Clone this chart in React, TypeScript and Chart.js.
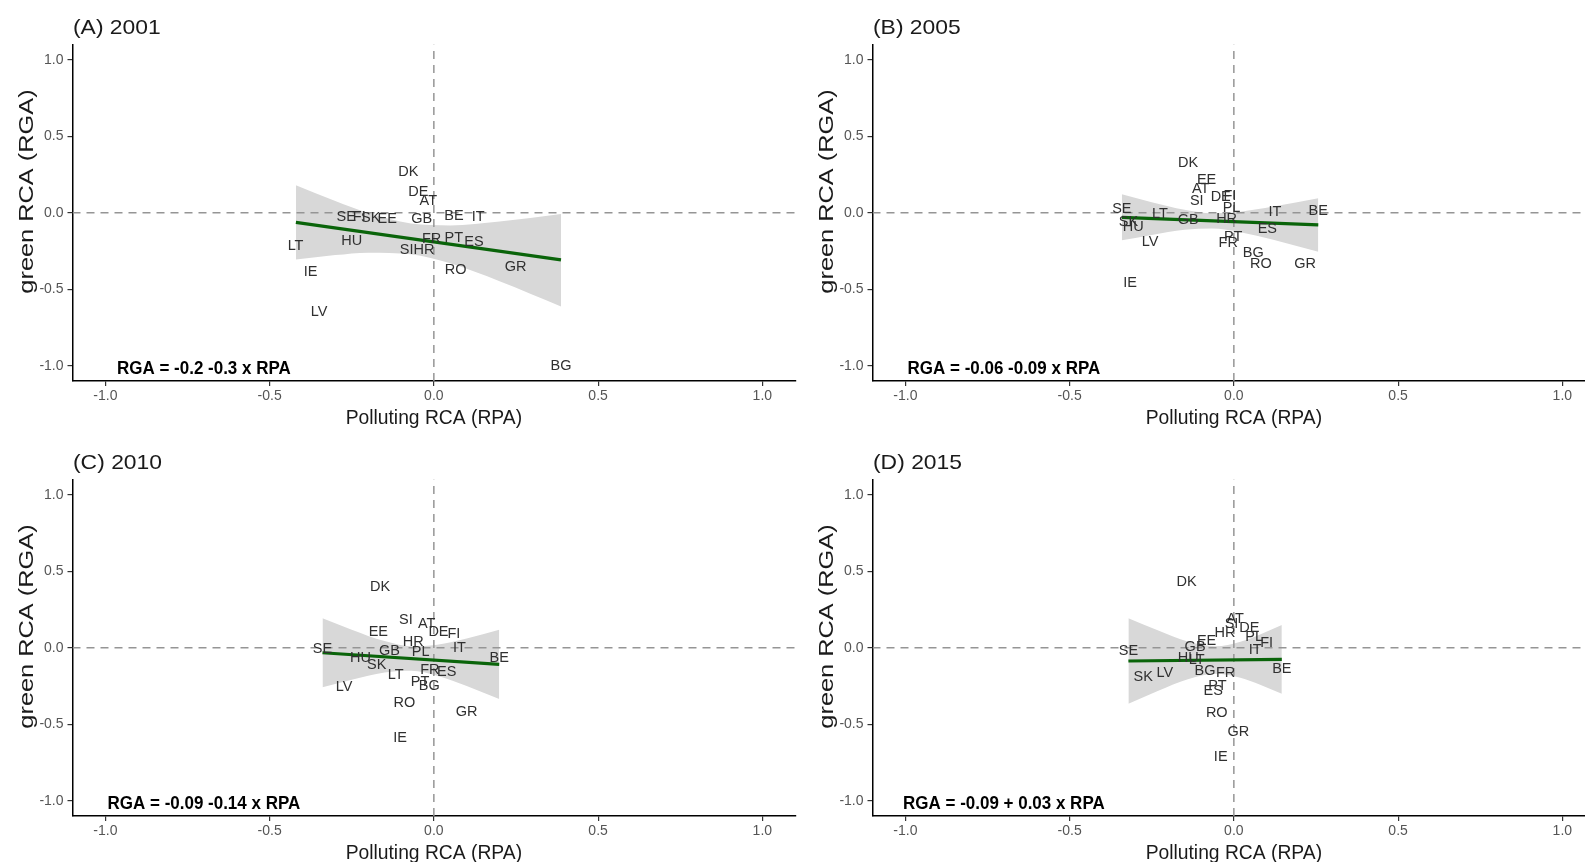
import React, { useEffect, useRef } from 'react';
import { Chart, registerables } from 'chart.js';
Chart.register(...registerables);

const FONT = "'Liberation Sans', Arial, Helvetica, sans-serif";

// ---------- axis ticks ----------
const xTickValues = [-1, -0.5, 0, 0.5, 1];
const xTickLabels = ['-1.0', '-0.5', '0.0', '0.5', '1.0'];
const yTickValues = [-1, -0.5, 0, 0.5, 1];
const yTickLabels = ['-1.0', '-0.5', '0.0', '0.5', '1.0'];
const xTitle = 'Polluting RCA (RPA)';
const yTitle = 'green RCA (RGA)';

// ---------- (A) 2001 ----------
const codes2001 = ['DK', 'DE', 'AT', 'SE', 'FI', 'SK', 'EE', 'GB', 'BE', 'IT', 'LT', 'HU', 'FR', 'PT', 'ES', 'SI', 'HR', 'IE', 'RO', 'GR', 'LV', 'BG'];
const rpa2001 = [-0.078, -0.047, -0.017, -0.267, -0.227, -0.192, -0.142, -0.037, 0.061, 0.135, -0.421, -0.25, -0.007, 0.061, 0.122, -0.083, -0.03, -0.375, 0.066, 0.249, -0.349, 0.387];
const rga2001 = [0.268, 0.137, 0.076, -0.03, -0.026, -0.037, -0.043, -0.043, -0.022, -0.03, -0.218, -0.183, -0.174, -0.167, -0.19, -0.244, -0.244, -0.386, -0.375, -0.357, -0.651, -1.0];
const fitX2001 = [-0.42, 0.387];
const fitY2001 = [-0.063, -0.308];
const bandX2001 = [-0.42, -0.3, -0.2, -0.07, 0.05, 0.2, 0.387];
const bandHi2001 = [0.18, 0.077, -0.001, -0.071, -0.083, -0.058, -0.009];
const bandLo2001 = [-0.306, -0.277, -0.261, -0.271, -0.331, -0.448, -0.613];

// ---------- (B) 2005 ----------
const codes2005 = ['DK', 'EE', 'AT', 'SI', 'DE', 'FI', 'PL', 'SE', 'SK', 'HU', 'LT', 'GB', 'HR', 'IT', 'BE', 'ES', 'LV', 'PT', 'FR', 'BG', 'RO', 'GR', 'IE'];
const rpa2005 = [-0.139, -0.083, -0.101, -0.113, -0.04, -0.012, -0.007, -0.341, -0.321, -0.306, -0.225, -0.139, -0.022, 0.125, 0.257, 0.102, -0.255, -0.002, -0.017, 0.059, 0.082, 0.217, -0.316];
const rga2005 = [0.323, 0.214, 0.153, 0.078, 0.1, 0.109, 0.029, 0.026, -0.059, -0.096, -0.008, -0.048, -0.043, 0.007, 0.011, -0.109, -0.19, -0.157, -0.2, -0.265, -0.335, -0.335, -0.46];
const fitX2005 = [-0.341, 0.257];
const fitY2005 = [-0.03, -0.08];
const bandX2005 = [-0.341, -0.25, -0.15, -0.067, 0.02, 0.12, 0.257];
const bandHi2005 = [0.12, 0.069, 0.02, -0.003, 0.007, 0.04, 0.095];
const bandLo2005 = [-0.18, -0.145, -0.112, -0.103, -0.127, -0.177, -0.255];

// ---------- (C) 2010 ----------
const codes2010 = ['DK', 'SI', 'AT', 'DE', 'FI', 'EE', 'HR', 'IT', 'SE', 'GB', 'PL', 'BE', 'HU', 'SK', 'LT', 'FR', 'ES', 'PT', 'BG', 'LV', 'RO', 'GR', 'IE'];
const rpa2010 = [-0.164, -0.085, -0.022, 0.014, 0.061, -0.169, -0.063, 0.078, -0.339, -0.135, -0.04, 0.199, -0.223, -0.174, -0.116, -0.012, 0.039, -0.042, -0.014, -0.273, -0.09, 0.1, -0.103];
const rga2010 = [0.395, 0.181, 0.155, 0.105, 0.09, 0.105, 0.039, -0.004, -0.011, -0.02, -0.03, -0.065, -0.069, -0.113, -0.178, -0.146, -0.161, -0.226, -0.25, -0.255, -0.359, -0.422, -0.588];
const fitX2010 = [-0.339, 0.199];
const fitY2010 = [-0.033, -0.109];
const bandX2010 = [-0.339, -0.25, -0.15, -0.069, 0.01, 0.1, 0.199];
const bandHi2010 = [0.193, 0.118, 0.043, 0.009, 0.019, 0.06, 0.117];
const bandLo2010 = [-0.259, -0.209, -0.162, -0.151, -0.183, -0.25, -0.335];

// ---------- (D) 2015 ----------
const codes2015 = ['DK', 'AT', 'SI', 'DE', 'HR', 'EE', 'GB', 'PL', 'FI', 'IT', 'SE', 'HU', 'LT', 'BE', 'BG', 'FR', 'SK', 'LV', 'PT', 'ES', 'RO', 'GR', 'IE'];
const rpa2015 = [-0.144, 0.004, -0.007, 0.047, -0.027, -0.083, -0.118, 0.062, 0.1, 0.065, -0.321, -0.139, -0.113, 0.146, -0.088, -0.025, -0.276, -0.21, -0.05, -0.063, -0.052, 0.014, -0.04];
const rga2015 = [0.427, 0.188, 0.155, 0.127, 0.094, 0.046, 0.007, 0.068, 0.033, -0.015, -0.02, -0.069, -0.08, -0.141, -0.15, -0.167, -0.193, -0.167, -0.25, -0.281, -0.425, -0.549, -0.712];
const fitX2015 = [-0.321, 0.146];
const fitY2015 = [-0.087, -0.076];
const bandX2015 = [-0.321, -0.23, -0.14, -0.056, 0.02, 0.08, 0.146];
const bandHi2015 = [0.193, 0.112, 0.04, 0.009, 0.039, 0.087, 0.149];
const bandLo2015 = [-0.367, -0.282, -0.206, -0.171, -0.197, -0.242, -0.301];

const titles = ['(A) 2001', '(B) 2005', '(C) 2010', '(D) 2015'];
const equations = ['RGA = -0.2 -0.3 x RPA', 'RGA = -0.06 -0.09 x RPA', 'RGA = -0.09 -0.14 x RPA', 'RGA = -0.09 + 0.03 x RPA'];
const eqX = -0.7;
const eqY = -1.0;

type PanelData = {
  title: string; eq: string; codes: string[]; rpa: number[]; rga: number[];
  fitX: number[]; fitY: number[]; bandX: number[]; bandHi: number[]; bandLo: number[];
};

const panels: PanelData[] = [
  { title: titles[0], eq: equations[0], codes: codes2001, rpa: rpa2001, rga: rga2001, fitX: fitX2001, fitY: fitY2001, bandX: bandX2001, bandHi: bandHi2001, bandLo: bandLo2001 },
  { title: titles[1], eq: equations[1], codes: codes2005, rpa: rpa2005, rga: rga2005, fitX: fitX2005, fitY: fitY2005, bandX: bandX2005, bandHi: bandHi2005, bandLo: bandLo2005 },
  { title: titles[2], eq: equations[2], codes: codes2010, rpa: rpa2010, rga: rga2010, fitX: fitX2010, fitY: fitY2010, bandX: bandX2010, bandHi: bandHi2010, bandLo: bandLo2010 },
  { title: titles[3], eq: equations[3], codes: codes2015, rpa: rpa2015, rga: rga2015, fitX: fitX2015, fitY: fitY2015, bandX: bandX2015, bandHi: bandHi2015, bandLo: bandLo2015 },
];

const PW = 800;
const PH = 435;
const positions = [[0, 0], [800, 0], [0, 435], [800, 435]];

function textPlugin(p: PanelData) {
  return {
    id: 'panelText',
    afterDatasetsDraw(chart: any) {
      const ctx = chart.ctx as CanvasRenderingContext2D;
      const meta = chart.getDatasetMeta(5);
      ctx.save();
      ctx.fillStyle = '#303030';
      ctx.font = `14.5px ${FONT}`;
      ctx.textAlign = 'center';
      ctx.textBaseline = 'middle';
      p.codes.forEach((c, i) => {
        const el = meta.data[i];
        ctx.fillText(c, el.x, el.y);
      });
      const xs = chart.scales.x;
      const ys = chart.scales.y;
      ctx.fillStyle = '#000';
      ctx.font = `bold 17.5px ${FONT}`;
      ctx.textBaseline = 'alphabetic';
      ctx.translate(xs.getPixelForValue(eqX), ys.getPixelForValue(eqY) + 8.5);
      ctx.scale(0.97, 1);
      ctx.fillText(p.eq, 0, 0);
      ctx.restore();
    },
    afterDraw(chart: any) {
      const ctx = chart.ctx as CanvasRenderingContext2D;
      const area = chart.chartArea;
      // panel title
      ctx.save();
      ctx.fillStyle = '#1a1a1a';
      ctx.font = `21px ${FONT}`;
      ctx.textAlign = 'left';
      ctx.textBaseline = 'alphabetic';
      ctx.translate(73, 34.3);
      ctx.scale(1.09, 1);
      ctx.fillText(p.title, 0, 0);
      ctx.restore();
      // x title
      ctx.save();
      ctx.fillStyle = '#1a1a1a';
      ctx.font = `19.3px ${FONT}`;
      ctx.textAlign = 'center';
      ctx.textBaseline = 'alphabetic';
      ctx.fillText(xTitle, (area.left + area.right) / 2, area.bottom + 42.6);
      ctx.restore();
      // y title
      ctx.save();
      ctx.fillStyle = '#1a1a1a';
      ctx.translate(33.3, 191.5);
      ctx.rotate(-Math.PI / 2);
      ctx.scale(1.3, 1);
      ctx.font = `19.5px ${FONT}`;
      ctx.textAlign = 'center';
      ctx.textBaseline = 'alphabetic';
      ctx.fillText(yTitle, 0, 0);
      ctx.restore();
    },
  };
}

function makeConfig(p: PanelData): any {
  const pts = (xs: number[], ys: number[]) => xs.map((x, i) => ({ x, y: ys[i] }));
  return {
    type: 'line',
    data: {
      datasets: [
        { data: pts(p.bandX, p.bandLo), borderColor: 'rgba(0,0,0,0)', borderWidth: 0, pointRadius: 0, cubicInterpolationMode: 'monotone', fill: false, order: 10 },
        { data: pts(p.bandX, p.bandHi), borderColor: 'rgba(0,0,0,0)', borderWidth: 0, pointRadius: 0, cubicInterpolationMode: 'monotone', fill: '-1', backgroundColor: '#d8d8d8', order: 9 },
        { data: [{ x: -1.1, y: 0 }, { x: 1.1, y: 0 }], borderColor: '#959595', borderWidth: 1.5, borderDash: [8, 6], pointRadius: 0, fill: false, order: 8 },
        { data: [{ x: 0, y: -1.1 }, { x: 0, y: 1.1 }], borderColor: '#959595', borderWidth: 1.5, borderDash: [8, 6], pointRadius: 0, fill: false, order: 7 },
        { data: pts(p.fitX, p.fitY), borderColor: '#0a640a', borderWidth: 3.2, pointRadius: 0, fill: false, order: 6 },
        { data: pts(p.rpa, p.rga), showLine: false, pointRadius: 0, fill: false, order: 1 },
      ],
    },
    options: {
      responsive: false,
      animation: false,
      devicePixelRatio: 1,
      events: [],
      layout: { padding: { top: 44.4, right: 4.8, left: 0, bottom: 0 } },
      plugins: { legend: { display: false }, tooltip: { enabled: false }, title: { display: false } },
      scales: {
        x: {
          type: 'linear', min: -1.1, max: 1.1,
          afterBuildTicks: (s: any) => { s.ticks = xTickValues.map((v) => ({ value: v })); },
          afterFit: (s: any) => { s.height = 54; },
          ticks: {
            autoSkip: false, maxRotation: 0, minRotation: 0, padding: 1.5, color: '#555555',
            font: { family: FONT, size: 14 },
            callback: (_v: any, i: number) => xTickLabels[i],
          },
          grid: { display: true, drawOnChartArea: false, drawTicks: true, tickLength: 5, color: '#333', lineWidth: 1.2 },
          border: { display: true, color: '#000', width: 1.5 },
        },
        y: {
          type: 'linear', min: -1.1, max: 1.1,
          afterBuildTicks: (s: any) => { s.ticks = yTickValues.map((v) => ({ value: v })); },
          afterFit: (s: any) => { s.width = 72.5; },
          ticks: {
            autoSkip: false, padding: 4, color: '#555555',
            font: { family: FONT, size: 14 },
            callback: (_v: any, i: number) => yTickLabels[i],
          },
          grid: { display: true, drawOnChartArea: false, drawTicks: true, tickLength: 5, color: '#333', lineWidth: 1.2 },
          border: { display: true, color: '#000', width: 1.5 },
        },
      },
    },
    plugins: [textPlugin(p)],
  };
}

function Panel({ p, left, top }: { p: PanelData; left: number; top: number }) {
  const ref = useRef<HTMLCanvasElement>(null);
  useEffect(() => {
    const chart = new Chart(ref.current as HTMLCanvasElement, makeConfig(p));
    return () => chart.destroy();
  }, [p]);
  return (
    <canvas
      ref={ref}
      width={PW}
      height={PH}
      style={{ position: 'absolute', left, top, width: PW, height: PH, display: 'block' }}
    />
  );
}

export default function App() {
  return (
    <div style={{ position: 'fixed', left: 0, top: 0, width: 1585, height: 862, overflow: 'hidden', background: '#fff' }}>
      {panels.map((p, i) => (
        <Panel key={i} p={p} left={positions[i][0]} top={positions[i][1]} />
      ))}
    </div>
  );
}
